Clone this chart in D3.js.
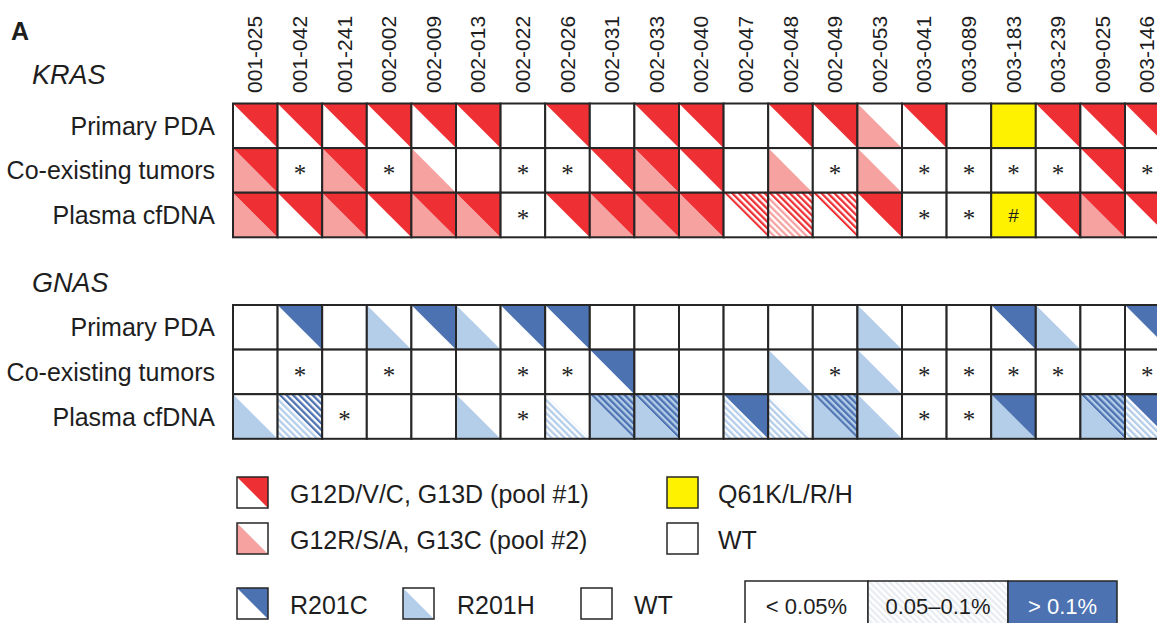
<!DOCTYPE html>
<html>
<head>
<meta charset="utf-8">
<script src="https://cdn.jsdelivr.net/npm/d3@7"></script>
<style>
  body { margin: 0; background: #fff; }
  text { font-family: "Liberation Sans", Arial, sans-serif; fill: #1e1e1e; }
</style>
</head>
<body>
<div id="chart"></div>
<script>
'use strict';

// sample ids (columns)
const samples = ['001-025', '001-042', '001-241', '002-002', '002-009', '002-013', '002-022',
  '002-026', '002-031', '002-033', '002-040', '002-047', '002-048', '002-049', '002-053',
  '003-041', '003-089', '003-183', '003-239', '009-025', '003-146'];

const rowNames = ['Primary PDA', 'Co-existing tumors', 'Plasma cfDNA'];

// cell codes: 'ab' -> a = upper-right triangle, b = lower-left triangle
// 0 = none, 1 = solid, 2 = hatched (0.05-0.1%); '*' = not available; 'Q' = Q61 (yellow)
const krasPrimary = ['10', '10', '10', '10', '10', '10', '00', '10', '00', '10', '10', '00', '10', '10', '01', '10', '00', 'Q', '10', '10', '10'];
const krasTumors = ['11', '*', '11', '*', '01', '00', '*', '*', '10', '11', '10', '00', '01', '*', '01', '*', '*', '*', '*', '10', '*'];
const krasPlasma = ['11', '10', '11', '10', '11', '11', '*', '10', '11', '11', '11', '20', '22', '20', '10', '*', '*', 'Q#', '10', '11', '10'];

const gnasPrimary = ['00', '10', '00', '01', '10', '01', '10', '10', '00', '00', '00', '00', '00', '00', '01', '00', '00', '10', '01', '00', '10'];
const gnasTumors = ['00', '*', '00', '*', '00', '00', '*', '*', '10', '00', '00', '00', '01', '*', '01', '*', '*', '*', '*', '00', '*'];
const gnasPlasma = ['01', '22', '*', '00', '00', '01', '*', '02', '21', '21', '00', '12', '02', '21', '01', '*', '*', '11', '00', '21', '12'];

const krasLegend = ['G12D/V/C, G13D (pool #1)', 'G12R/S/A, G13C (pool #2)'];
const krasLegend2 = ['Q61K/L/R/H', 'WT'];
const gnasLegend = ['R201C', 'R201H', 'WT'];
const levelLegend = ['< 0.05%', '0.05\u20130.1%', '> 0.1%'];

const W = 1157;
const H = 623;
const cell = 44.6;
const gridLeft = 233;

const red = '#ee2f33';
const pink = '#f6a2a1';
const dark = '#4c72b1';
const light = '#b4cde9';
const yellow = '#fff200';
const line = '#262626';

const svg = d3.select('#chart')
  .append('svg')
  .attr('width', W)
  .attr('height', H);

const defs = svg.append('defs');

const makeHatch = (id, color, bg) => {
  const p = defs.append('pattern')
    .attr('id', id)
    .attr('patternUnits', 'userSpaceOnUse')
    .attr('width', 4.6)
    .attr('height', 4.6)
    .attr('patternTransform', 'rotate(-45)');
  p.append('rect').attr('width', 4.6).attr('height', 4.6).attr('fill', bg);
  p.append('rect').attr('width', 2.3).attr('height', 4.6).attr('fill', color);
};
makeHatch('h-red', red, '#fff');
makeHatch('h-pink', pink, '#fff');
makeHatch('h-dark', dark, '#fff');
makeHatch('h-dark-on-light', dark, light);
makeHatch('h-light', light, '#fff');
makeHatch('h-faint', '#e8ecf0', '#fff');

const x = d3.scaleBand()
  .domain(samples)
  .range([gridLeft, gridLeft + samples.length * cell]);

const drawPanel = (top, rows, upColor, lowColor, hatchUp, hatchUpOnLow, hatchLow) => {
  const y = d3.scaleBand()
    .domain(rowNames)
    .range([top, top + rowNames.length * cell]);

  const cells = [];
  rows.forEach((codes, r) => {
    codes.forEach((code, c) => cells.push({ row: rowNames[r], sample: samples[c], code: code }));
  });

  const g = svg.append('g');

  const groups = g.selectAll('g.cell')
    .data(cells)
    .enter()
    .append('g')
    .attr('class', 'cell')
    .attr('transform', d => `translate(${x(d.sample)}, ${y(d.row)})`);

  const bw = x.bandwidth();
  const bh = y.bandwidth();

  groups.append('rect')
    .attr('width', bw)
    .attr('height', bh)
    .attr('fill', d => d.code[0] === 'Q' ? yellow : '#fff');

  // lower-left triangle
  groups.filter(d => d.code[1] === '1' || d.code[1] === '2')
    .append('path')
    .attr('d', `M0,0 L${bw},${bh} L0,${bh} Z`)
    .attr('fill', d => d.code[1] === '1' ? lowColor : `url(#${hatchLow})`);

  // upper-right triangle
  groups.filter(d => d.code[0] === '1' || d.code[0] === '2')
    .append('path')
    .attr('d', `M0,0 L${bw},0 L${bw},${bh} Z`)
    .attr('fill', d => {
      if (d.code[0] === '1') return upColor;
      return d.code[1] === '1' ? `url(#${hatchUpOnLow})` : `url(#${hatchUp})`;
    });

  groups.append('rect')
    .attr('width', bw)
    .attr('height', bh)
    .attr('fill', 'none')
    .attr('stroke', line)
    .attr('stroke-width', 2);

  groups.filter(d => d.code === '*')
    .append('text')
    .attr('x', bw / 2)
    .attr('y', bh / 2 + 12)
    .attr('text-anchor', 'middle')
    .style('font-family', '"Liberation Serif", serif')
    .style('font-size', '25px')
    .text('*');

  groups.filter(d => d.code === 'Q#')
    .append('text')
    .attr('x', bw / 2)
    .attr('y', bh / 2 + 7)
    .attr('text-anchor', 'middle')
    .style('font-size', '19px')
    .text('#');

  g.selectAll('text.row')
    .data(rowNames)
    .enter()
    .append('text')
    .attr('class', 'row')
    .attr('x', 215)
    .attr('y', d => y(d) + bh / 2 + 9)
    .attr('text-anchor', 'end')
    .style('font-size', '25px')
    .text(d => d);
};

drawPanel(103.5, [krasPrimary, krasTumors, krasPlasma], red, pink, 'h-red', 'h-red', 'h-pink');
drawPanel(305, [gnasPrimary, gnasTumors, gnasPlasma], dark, light, 'h-dark', 'h-dark-on-light', 'h-light');

// column labels
svg.selectAll('text.col')
  .data(samples)
  .enter()
  .append('text')
  .attr('class', 'col')
  .attr('transform', d => `translate(${x(d) + x.bandwidth() / 2 + 7}, 93) rotate(-90)`)
  .attr('text-anchor', 'start')
  .style('font-size', '21px')
  .text(d => d);

svg.append('text')
  .attr('x', 11)
  .attr('y', 40)
  .style('font-size', '25px')
  .style('font-weight', 'bold')
  .text('A');

svg.append('text')
  .attr('x', 32)
  .attr('y', 84)
  .style('font-size', '27px')
  .style('font-style', 'italic')
  .text('KRAS');

svg.append('text')
  .attr('x', 32)
  .attr('y', 292)
  .style('font-size', '27px')
  .style('font-style', 'italic')
  .text('GNAS');

// legends
const sw = 31;
const swatch = (x0, y0, kind) => {
  const g = svg.append('g').attr('transform', `translate(${x0}, ${y0})`);
  g.append('rect').attr('width', sw).attr('height', sw).attr('fill', kind === 'yellow' ? yellow : '#fff');
  if (kind === 'up-red' || kind === 'up-dark') {
    g.append('path').attr('d', `M0,0 L${sw},0 L${sw},${sw} Z`).attr('fill', kind === 'up-red' ? red : dark);
  }
  if (kind === 'low-pink' || kind === 'low-light') {
    g.append('path').attr('d', `M0,0 L${sw},${sw} L0,${sw} Z`).attr('fill', kind === 'low-pink' ? pink : light);
  }
  g.append('rect').attr('width', sw).attr('height', sw).attr('fill', 'none')
    .attr('stroke', line).attr('stroke-width', 1.5);
};

const legendText = (x0, y0, t) => svg.append('text')
  .attr('x', x0)
  .attr('y', y0)
  .style('font-size', '25px')
  .text(t);

swatch(237, 477, 'up-red');
legendText(290, 503, krasLegend[0]);
swatch(237, 523, 'low-pink');
legendText(290, 549, krasLegend[1]);

swatch(667, 477, 'yellow');
legendText(718, 503, krasLegend2[0]);
swatch(667, 523, 'white');
legendText(718, 549, krasLegend2[1]);

swatch(237, 588, 'up-dark');
legendText(290, 614, gnasLegend[0]);
swatch(403, 588, 'low-light');
legendText(457, 614, gnasLegend[1]);
swatch(581, 588, 'white');
legendText(634, 614, gnasLegend[2]);

// concentration legend
const lx = d3.scaleOrdinal().domain(levelLegend).range([745, 868, 1008]);
const lw = d3.scaleOrdinal().domain(levelLegend).range([123, 140, 109]);
const lg = svg.append('g');
lg.selectAll('rect')
  .data(levelLegend)
  .enter()
  .append('rect')
  .attr('x', d => lx(d))
  .attr('y', 581)
  .attr('width', d => lw(d))
  .attr('height', 50)
  .attr('fill', (d, i) => i === 0 ? '#fff' : i === 1 ? 'url(#h-faint)' : dark)
  .attr('stroke', line)
  .attr('stroke-width', 1.5);
lg.selectAll('text')
  .data(levelLegend)
  .enter()
  .append('text')
  .attr('x', d => lx(d) + lw(d) / 2)
  .attr('y', 614)
  .attr('text-anchor', 'middle')
  .style('font-size', '22px')
  .style('fill', (d, i) => i === 2 ? '#fff' : '#1e1e1e')
  .text(d => d);
</script>
</body>
</html>
